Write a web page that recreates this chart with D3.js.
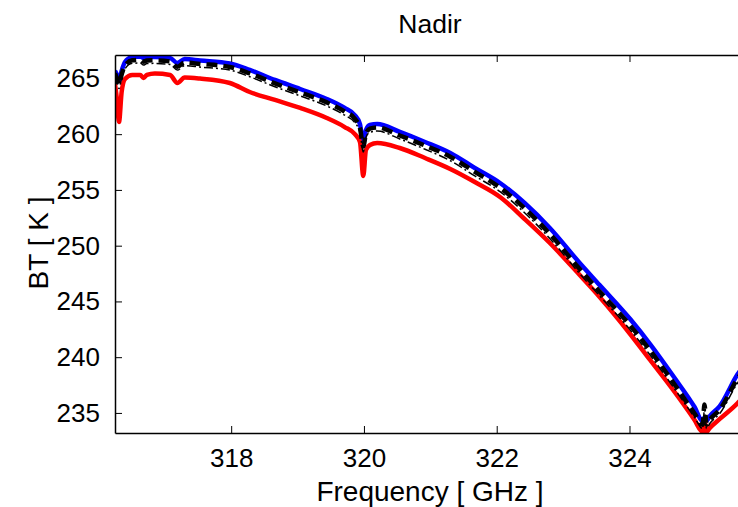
<!DOCTYPE html>
<html>
<head>
<meta charset="utf-8">
<script src="https://cdn.jsdelivr.net/npm/d3@7"></script>
<style>
  body { margin: 0; background: #fff; }
  text { font-family: "Liberation Sans", Arial, Helvetica, sans-serif; fill: #000; }
</style>
</head>
<body>
<div id="chart"></div>
<script>
const width = 738;
const height = 507;

// frequency grid [GHz]
const freq = [
  316.25, 316.28, 316.31, 316.35, 316.40, 316.51, 316.63, 316.68, 316.73, 316.85,
  317.08, 317.19, 317.30, 317.53, 317.98, 318.28, 318.66, 319.04, 319.44, 319.71,
  319.86, 319.94, 319.99, 320.03, 320.09, 320.20, 320.54, 320.92, 321.30, 321.67,
  322.05, 322.42, 322.80, 323.25, 323.55, 324.01, 324.31, 324.68, 324.98, 325.10,
  325.13, 325.16, 325.21, 325.36, 325.63, 325.74
];

// brightness temperatures [K]
const btBlue = [
  265.67, 265.31, 264.77, 265.67, 266.47, 266.92, 266.97, 266.83, 266.92, 266.92,
  266.83, 266.38, 266.74, 266.61, 266.34, 265.76, 264.86, 264.05, 263.16, 262.35,
  261.72, 260.91, 259.21, 260.37, 260.82, 260.91, 260.20, 259.30, 258.31, 256.97,
  255.62, 253.83, 251.59, 248.45, 246.47, 243.42, 241.18, 238.13, 235.53, 234.30,
  234.60, 234.30, 234.72, 235.62, 238.49, 239.39
];

const btDashed = [
  265.45, 265.00, 264.45, 265.35, 266.15, 266.62, 266.66, 266.50, 266.60, 266.62,
  266.52, 266.05, 266.42, 266.30, 266.03, 265.45, 264.55, 263.74, 262.85, 262.03,
  261.40, 260.55, 258.90, 260.05, 260.50, 260.60, 259.88, 258.98, 257.98, 256.62,
  255.20, 253.35, 251.05, 247.90, 245.90, 242.85, 240.60, 237.55, 234.95, 233.95,
  235.75, 233.95, 234.40, 235.30, 238.10, 239.00
];

const btDashDot = [
  265.20, 264.70, 264.10, 265.05, 265.85, 266.35, 266.38, 266.20, 266.33, 266.35,
  266.25, 265.75, 266.15, 266.02, 265.75, 265.15, 264.25, 263.43, 262.53, 261.70,
  261.05, 260.15, 258.40, 259.70, 260.17, 260.28, 259.57, 258.65, 257.62, 256.25,
  254.85, 252.95, 250.65, 247.50, 245.50, 242.45, 240.20, 237.15, 234.60, 233.60,
  235.30, 233.60, 234.05, 234.95, 237.70, 238.60
];

const btRed = [
  264.50, 263.07, 261.09, 263.78, 264.95, 265.31, 265.31, 265.04, 265.31, 265.44,
  265.31, 264.59, 265.08, 264.99, 264.59, 263.78, 263.07, 262.35, 261.45, 260.64,
  260.02, 259.30, 256.25, 258.58, 259.03, 259.21, 258.76, 257.86, 256.88, 255.71,
  254.37, 252.39, 250.24, 247.37, 245.40, 242.08, 239.75, 236.88, 234.37, 233.30,
  234.37, 233.30, 233.65, 234.46, 235.89, 236.61
];

const xTicks = [318, 320, 322, 324];
const yTicks = [235, 240, 245, 250, 255, 260, 265];

const margin = { left: 115, top: 55, right: 745, bottom: 433 };

const x = d3.scaleLinear().domain([316.25, 325.74]).range([margin.left, margin.right]);
const y = d3.scaleLinear().domain([233.2, 267.1]).range([margin.bottom, margin.top]);

const svg = d3
  .select("#chart")
  .append("svg")
  .attr("width", width)
  .attr("height", height);

svg
  .append("clipPath")
  .attr("id", "plot-clip")
  .append("rect")
  .attr("x", margin.left)
  .attr("y", margin.top)
  .attr("width", margin.right - margin.left)
  .attr("height", margin.bottom - margin.top);

const line = (vals) =>
  d3
    .line()
    .x((d, i) => x(freq[i]))
    .y((d) => y(d))
    .curve(d3.curveMonotoneX)(vals);

const series = [
  { vals: btBlue, color: "#0000ff", w: 4.5, dash: null },
  { vals: btRed, color: "#ff0000", w: 4.5, dash: null },
  { vals: btDashDot, color: "#000", w: 1.5, dash: "9,3,2,3" },
  { vals: btDashed, color: "#000", w: 4.5, dash: "11,6" },
];

const plot = svg.append("g").attr("clip-path", "url(#plot-clip)");

plot
  .selectAll("path")
  .data(series)
  .join("path")
  .attr("d", (d) => line(d.vals))
  .attr("fill", "none")
  .attr("stroke", (d) => d.color)
  .attr("stroke-width", (d) => d.w)
  .attr("stroke-dasharray", (d) => d.dash)
  .attr("stroke-linejoin", "round");

// axes box
const axisG = svg.append("g");

axisG
  .append("g")
  .attr("transform", `translate(0,${margin.bottom})`)
  .call(d3.axisBottom(x).tickValues(xTicks).tickSizeInner(-7).tickSizeOuter(0).tickPadding(16))
  .call((g) => g.select(".domain").attr("stroke-width", 1.5));

axisG
  .append("g")
  .attr("transform", `translate(0,${margin.top})`)
  .call(d3.axisTop(x).tickValues(xTicks).tickSizeInner(-7).tickSizeOuter(0).tickFormat(""))
  .call((g) => g.select(".domain").attr("stroke-width", 1.5));

axisG
  .append("g")
  .attr("transform", `translate(${margin.left},0)`)
  .call(d3.axisLeft(y).tickValues(yTicks).tickSizeInner(-7).tickSizeOuter(0).tickPadding(15))
  .call((g) => g.select(".domain").attr("stroke-width", 1.5));

axisG.selectAll(".tick line").attr("stroke", "#000");
axisG.selectAll(".domain").attr("stroke", "#000");
axisG.selectAll(".tick text").style("font-size", "26px").style("font-family", "Liberation Sans, Arial, sans-serif");

svg
  .append("text")
  .attr("x", (margin.left + margin.right) / 2)
  .attr("y", 33)
  .attr("text-anchor", "middle")
  .style("font-size", "26.5px")
  .text("Nadir");

svg
  .append("text")
  .attr("x", (margin.left + margin.right) / 2)
  .attr("y", 501)
  .attr("text-anchor", "middle")
  .style("font-size", "28px")
  .text("Frequency [ GHz ]");

svg
  .append("text")
  .attr("transform", `translate(48,243) rotate(-90)`)
  .attr("text-anchor", "middle")
  .style("font-size", "28px")
  .text("BT [ K ]");
</script>
</body>
</html>
